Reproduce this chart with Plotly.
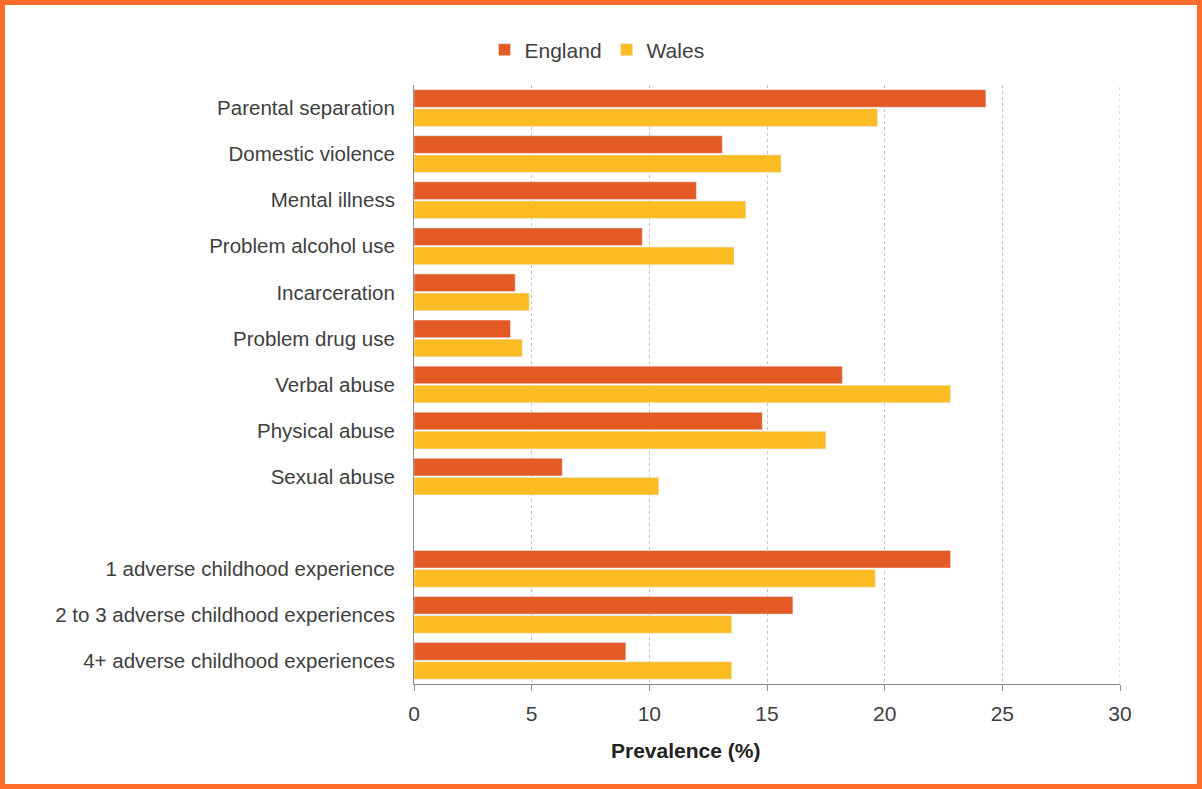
import plotly.graph_objects as go

# Adverse childhood experiences: prevalence (%) by country
categories = [
    "Parental separation",
    "Domestic violence",
    "Mental illness",
    "Problem alcohol use",
    "Incarceration",
    "Problem drug use",
    "Verbal abuse",
    "Physical abuse",
    "Sexual abuse",
    " ",
    "1 adverse childhood experience",
    "2 to 3 adverse childhood experiences",
    "4+ adverse childhood experiences",
]
england = [24.3, 13.1, 12.0, 9.7, 4.3, 4.1, 18.2, 14.8, 6.3, None, 22.8, 16.1, 9.0]
wales = [19.7, 15.6, 14.1, 13.6, 4.9, 4.6, 22.8, 17.5, 10.4, None, 19.6, 13.5, 13.5]
x_ticks = [0, 5, 10, 15, 20, 25, 30]

ENGLAND_COLOR = "#E35A24"
WALES_COLOR = "#FBBC24"
TEXT_COLOR = "#404040"
GRID_COLOR = "#C4C4C4"
FONT = "Liberation Sans, Arial, sans-serif"

W, H = 1202, 789
L, R, T, B = 414, 82, 85, 105
pw, ph = W - L - R, H - T - B


def px_x(p):
    return (p - L) / pw


def px_y(p):
    return (H - B - p) / ph


fig = go.Figure()
fig.add_trace(go.Bar(name="England", y=categories, x=england, orientation="h",
                     marker=dict(color=ENGLAND_COLOR)))
fig.add_trace(go.Bar(name="Wales", y=categories, x=wales, orientation="h",
                     marker=dict(color=WALES_COLOR)))

fig.update_layout(
    width=W, height=H,
    margin=dict(l=L, r=R, t=T, b=B, pad=0),
    paper_bgcolor="white", plot_bgcolor="white",
    barmode="group", bargap=0.17, bargroupgap=0.08,
    font=dict(family=FONT, size=21, color=TEXT_COLOR),
    showlegend=True,
    legend=dict(orientation="h", x=px_x(597), y=px_y(50), xanchor="center",
                yanchor="middle", font=dict(size=21, color=TEXT_COLOR),
                traceorder="normal", bgcolor="rgba(0,0,0,0)"),
    xaxis=dict(range=[0, 30], tickvals=x_ticks, showgrid=True,
               gridcolor=GRID_COLOR, griddash="dot", gridwidth=1,
               showline=True, linecolor="#8C8C8C", linewidth=1,
               ticks="outside", ticklen=6, tickcolor="#8C8C8C",
               ticklabelstandoff=5, zeroline=False,
               tickfont=dict(size=21, color=TEXT_COLOR)),
    yaxis=dict(categoryorder="array", categoryarray=categories,
               autorange="reversed", showgrid=False, showline=True,
               linecolor="#8C8C8C", linewidth=1, ticks="",
               ticklabelstandoff=14, tickfont=dict(size=20.5, color=TEXT_COLOR)),
)

# Gridline at the right end of the value axis
fig.add_shape(type="line", xref="x", yref="paper", x0=x_ticks[-1], x1=x_ticks[-1],
              y0=0, y1=1, line=dict(color=GRID_COLOR, width=1, dash="dot"),
              layer="below")

fig.add_annotation(text="<b>Prevalence (%)</b>", x=px_x(685), y=px_y(750),
                   xref="paper", yref="paper", showarrow=False,
                   font=dict(size=21, color="#222222"),
                   xanchor="center", yanchor="middle")

# Orange frame around the whole figure
fig.add_shape(type="rect", xref="paper", yref="paper",
              x0=px_x(2.5), x1=px_x(W - 2.5), y0=px_y(H - 2.5), y1=px_y(2.5),
              line=dict(color="#FF6B2B", width=5), fillcolor="rgba(0,0,0,0)",
              layer="above")

fig.write_html("out.html")
